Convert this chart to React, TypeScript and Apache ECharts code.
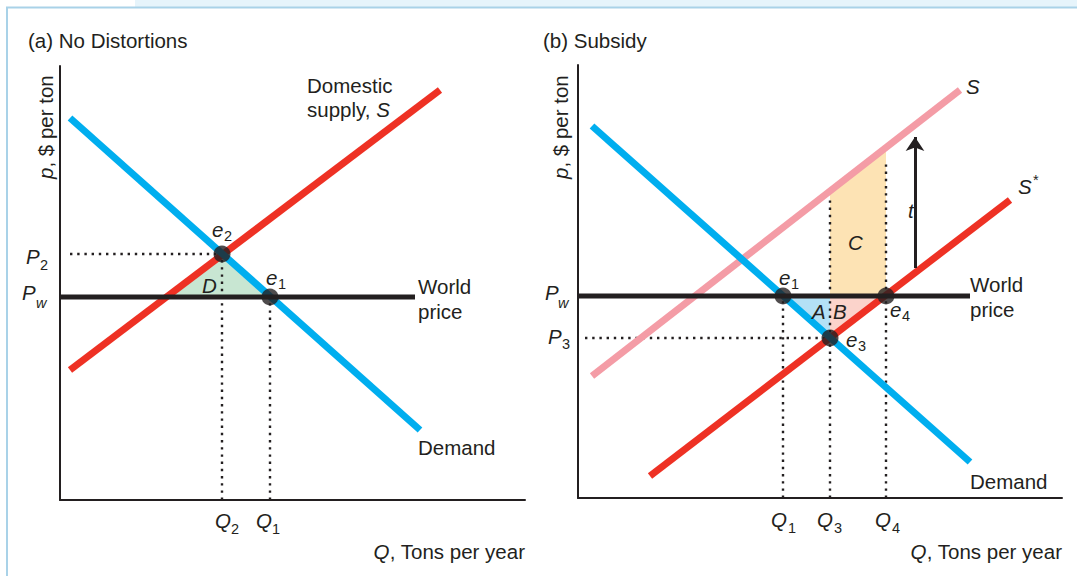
import React, { useEffect, useRef } from "react";
import * as echarts from "echarts";

// Panel (a): No Distortions  (x: quantity units, y: price units)
const demandA = [[10, 382], [360, 70]];
const supplyA = [[10, 130], [380, 410]];
const worldA = [[0, 203], [355, 203]];
const eqA = [[162, 246], [210, 203]]; // e2, e1
const areaD = [[106, 203], [162, 246], [210, 203]];
const p2Guide = [[10, 246], [162, 246]];
const q2Guide = [[162, 0], [162, 246]];
const q1Guide = [[210, 0], [210, 203]];

// Panel (b): Subsidy
const demandB = [[14, 372], [392, 36]];
const supplyB = [[14, 122], [382, 408]];
const supplyStarB = [[72, 22], [432, 298]];
const worldB = [[0, 202], [392, 202]];
const eqB = [[205, 202], [252, 160], [308, 202]]; // e1, e3, e4
const areaA = [[205, 202], [252, 202], [252, 160]];
const areaB = [[252, 202], [308, 202], [252, 160]];
const areaC = [[252, 202], [252, 307], [308, 350], [308, 202]];
const p3Guide = [[7, 160], [252, 160]];
const q1GuideB = [[205, 0], [205, 202]];
const q3GuideB = [[252, 0], [252, 301]];
const q4GuideB = [[308, 0], [308, 335]];
const subsidyArrow = [[337, 230], [337, 361]];

const FONT = "'Liberation Sans', Arial, Helvetica, sans-serif";
const INK = "#231f20";
const BLUE = "#00aeef";
const RED = "#ee3124";
const PINK = "#f49ca6";
const FS = 20.5;

const rich = {
  i: { fontStyle: "italic", fontSize: FS, fontFamily: FONT, fill: INK },
  n: { fontSize: FS, fontFamily: FONT, fill: INK },
};

function txt(x: number, y: number, text: string, align = "left", rotation = 0) {
  return {
    type: "text",
    x,
    y,
    rotation,
    style: {
      text,
      rich,
      fontSize: FS,
      fontFamily: FONT,
      fill: INK,
      align,
      verticalAlign: "middle",
    },
    z: 100,
  };
}

function small(x: number, y: number, text: string, italic = false) {
  return {
    type: "text",
    x,
    y,
    style: {
      text,
      fontSize: 14.5,
      fontStyle: italic ? "italic" : "normal",
      fontFamily: FONT,
      fill: INK,
      align: "left",
      verticalAlign: "middle",
    },
    z: 100,
  };
}

// main italic symbol with a subscript
function sym(x: number, y: number, main: string, sub: string, sx: number, sy: number, subItalic = false) {
  return [txt(x, y, `{i|${main}}`), small(sx, sy, sub, subItalic)];
}

function lineSeries(data: number[][], idx: number, color: string, width: number, z = 3, dotted = false) {
  return {
    type: "line",
    xAxisIndex: idx,
    yAxisIndex: idx,
    data,
    symbol: "none",
    silent: true,
    z,
    lineStyle: dotted
      ? { color: INK, width: 2.4, type: [2.4, 4.8], cap: "butt" }
      : { color, width, cap: "butt" },
  };
}

function polySeries(pts: number[][], idx: number, fill: string) {
  return {
    type: "custom",
    xAxisIndex: idx,
    yAxisIndex: idx,
    data: [pts[0]],
    z: 1,
    silent: true,
    renderItem: (_p: any, api: any) => ({
      type: "polygon",
      shape: { points: pts.map((p) => api.coord(p)) },
      style: { fill },
    }),
  };
}

export default function App() {
  const ref = useRef<HTMLDivElement>(null);
  useEffect(() => {
    if (!ref.current) return;
    const chart = echarts.init(ref.current, null, { renderer: "svg" });
    const axis = (max: number, gi: number) => ({
      type: "value",
      gridIndex: gi,
      min: 0,
      max,
      axisLine: { show: true, onZero: false, lineStyle: { color: INK, width: 2 } },
      axisTick: { show: false },
      axisLabel: { show: false },
      splitLine: { show: false },
    });
    chart.setOption({
      animation: false,
      backgroundColor: "#ffffff",
      grid: [
        { left: 60, top: 66, width: 465, height: 434 },
        { left: 578, top: 65, width: 484, height: 433 },
      ],
      xAxis: [axis(465, 0), axis(484, 1)],
      yAxis: [axis(434, 0), axis(433, 1)],
      series: [
        // panel a
        polySeries(areaD, 0, "#c8e6d2"),
        lineSeries(p2Guide, 0, INK, 2, 2, true),
        lineSeries(q2Guide, 0, INK, 2, 2, true),
        lineSeries(q1Guide, 0, INK, 2, 2, true),
        lineSeries(supplyA, 0, RED, 7, 3),
        lineSeries(demandA, 0, BLUE, 7, 4),
        lineSeries(worldA, 0, INK, 5, 5),
        {
          type: "scatter",
          xAxisIndex: 0,
          yAxisIndex: 0,
          data: eqA,
          symbolSize: 17,
          itemStyle: { color: INK },
          z: 6,
          silent: true,
        },
        // panel b
        polySeries(areaC, 1, "#fde3b4"),
        polySeries(areaA, 1, "#b3e1f6"),
        polySeries(areaB, 1, "#fbd3cb"),
        lineSeries(p3Guide, 1, INK, 2, 2, true),
        lineSeries(q1GuideB, 1, INK, 2, 2, true),
        lineSeries(q3GuideB, 1, INK, 2, 2, true),
        lineSeries(q4GuideB, 1, INK, 2, 2, true),
        lineSeries(supplyB, 1, PINK, 7, 3),
        lineSeries(supplyStarB, 1, RED, 7, 3),
        lineSeries(demandB, 1, BLUE, 7, 4),
        lineSeries(worldB, 1, INK, 5, 5),
        {
          type: "lines",
          coordinateSystem: "cartesian2d",
          xAxisIndex: 1,
          yAxisIndex: 1,
          data: [{ coords: subsidyArrow }],
          symbol: ["none", "arrow"],
          symbolSize: [0, 14],
          lineStyle: { color: INK, width: 3, opacity: 1 },
          z: 5,
          silent: true,
        },
        {
          type: "scatter",
          xAxisIndex: 1,
          yAxisIndex: 1,
          data: eqB,
          symbolSize: 17,
          itemStyle: { color: INK },
          z: 6,
          silent: true,
        },
      ],
      graphic: [
        { type: "rect", shape: { x: 135, y: 0, width: 942, height: 7 }, style: { fill: "#e6f4fb" }, z: 0 },
        { type: "line", shape: { x1: 6, y1: 7.5, x2: 1077, y2: 7.5 }, style: { stroke: "#a9d2e8", lineWidth: 2 }, z: 1 },
        { type: "line", shape: { x1: 7, y1: 7, x2: 7, y2: 576 }, style: { stroke: "#a9d2e8", lineWidth: 2 }, z: 1 },
        // panel a texts
        txt(28, 40, "{n|(a) No Distortions}"),
        txt(45, 179, "{i|p}{n|, $ per ton}", "left", Math.PI / 2),
        txt(307, 85, "{n|Domestic}"),
        txt(307, 109, "{n|supply, }{i|S}"),
        txt(418, 286, "{n|World}"),
        txt(418, 311, "{n|price}"),
        txt(418, 447, "{n|Demand}"),
        ...sym(212, 229, "e", "2", 224, 236),
        ...sym(266, 277, "e", "1", 278, 284),
        txt(202, 285, "{i|D}"),
        ...sym(26, 256, "P", "2", 40, 265),
        ...sym(22, 292, "P", "w", 36, 303, true),
        ...sym(215, 520, "Q", "2", 231, 529),
        ...sym(256, 520, "Q", "1", 272, 529),
        txt(525, 551, "{i|Q}{n|, Tons per year}", "right"),
        // panel b texts
        txt(543, 40, "{n|(b) Subsidy}"),
        txt(560, 179, "{i|p}{n|, $ per ton}", "left", Math.PI / 2),
        txt(966, 86, "{i|S}"),
        txt(1018, 186, "{i|S}"),
        small(1033, 180, "*"),
        txt(908, 210, "{i|t}"),
        txt(848, 242, "{i|C}"),
        txt(812, 311, "{i|A}"),
        txt(833, 311, "{i|B}"),
        ...sym(779, 277, "e", "1", 791, 284),
        ...sym(846, 339, "e", "3", 858, 346),
        ...sym(890, 309, "e", "4", 902, 316),
        txt(970, 284, "{n|World}"),
        txt(970, 309, "{n|price}"),
        txt(970, 481, "{n|Demand}"),
        ...sym(545, 292, "P", "w", 558, 303, true),
        ...sym(548, 336, "P", "3", 562, 344),
        ...sym(771, 519, "Q", "1", 788, 528),
        ...sym(817, 519, "Q", "3", 834, 528),
        ...sym(875, 519, "Q", "4", 892, 528),
        txt(1062, 551, "{i|Q}{n|, Tons per year}", "right"),
      ],
    });
    return () => chart.dispose();
  }, []);
  return (
    <div
      ref={ref}
      style={{ position: "fixed", left: 0, top: 0, width: 1077, height: 576, background: "#fff" }}
    />
  );
}
